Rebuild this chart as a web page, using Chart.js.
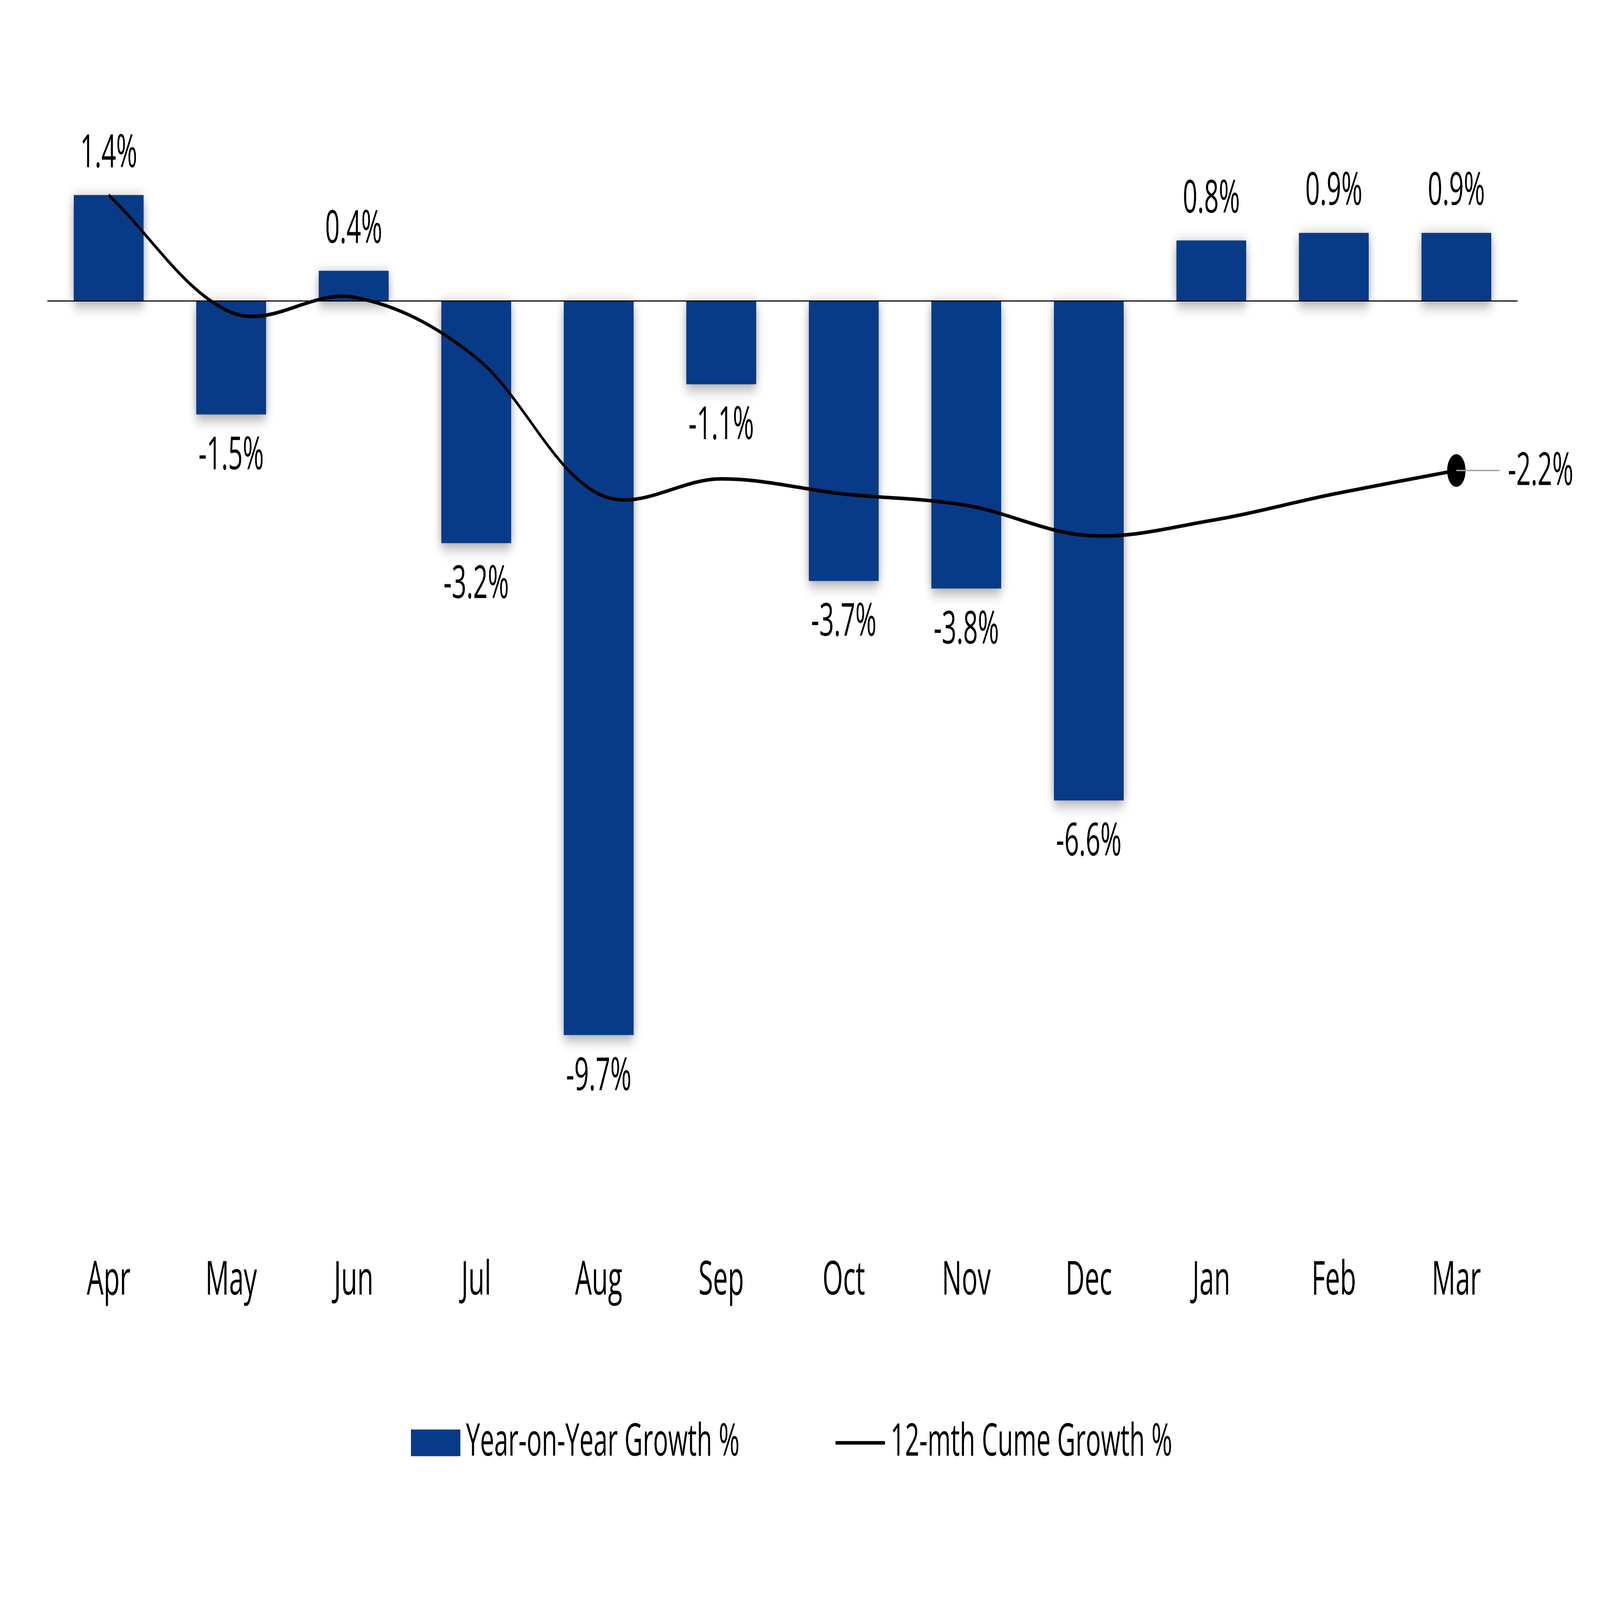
<!DOCTYPE html>
<html>
<head>
<meta charset="utf-8">
<script src="https://cdn.jsdelivr.net/npm/chart.js@4.4.1/dist/chart.umd.min.js"></script>
<style>
  html, body { margin: 0; padding: 0; background: #ffffff; overflow: hidden; }
  #wrap { width: 8000px; height: 4500px; position: absolute; left: 0; top: 0; transform-origin: 0 0; }
</style>
</head>
<body>
<div id="wrap"><canvas id="c"></canvas></div>
<script>
// ---- data ----
const months = ['Apr', 'May', 'Jun', 'Jul', 'Aug', 'Sep', 'Oct', 'Nov', 'Dec', 'Jan', 'Feb', 'Mar'];
const yoyGrowth = [1.4, -1.5, 0.4, -3.2, -9.7, -1.1, -3.7, -3.8, -6.6, 0.8, 0.9, 0.9];
const cumeGrowth = [1.4, -0.15, 0.05, -0.75, -2.55, -2.35, -2.55, -2.7, -3.1, -2.9, -2.55, -2.24];
const seriesNames = ['Year-on-Year Growth %', '12-mth Cume Growth %'];

// ---- styles ----
const BAR_COLOR = '#083B87';
const FONT = '"Open Sans", "Noto Sans", sans-serif';

// fit the 8000x4500 design to whatever window the page is opened in
(function fitToWindow() {
  const w = window.innerWidth || 8000, h = window.innerHeight || 4500;
  const sx = w / 8000, sy = h / 4500;
  if (Math.abs(sx - 1) > 0.001 || Math.abs(sy - 1) > 0.001) {
    document.getElementById('wrap').style.transform = 'scale(' + sx + ',' + sy + ')';
  }
})();

const fmt = v => v.toFixed(1) + '%';

const barShadow = {
  id: 'barShadow',
  beforeDatasetDraw(chart, args) {
    if (chart.data.datasets[args.index].type !== 'bar') return;
    const ctx = chart.ctx;
    ctx.save();
    ctx.shadowColor = 'rgba(0,0,0,0.4)';
    ctx.shadowBlur = 40;
    ctx.shadowOffsetX = 0;
    ctx.shadowOffsetY = 10;
  },
  afterDatasetDraw(chart, args) {
    if (chart.data.datasets[args.index].type !== 'bar') return;
    const ctx = chart.ctx;
    ctx.restore();
    // zero line
    const y0 = chart.scales.y.getPixelForValue(0);
    ctx.save();
    ctx.strokeStyle = '#000';
    ctx.lineWidth = 3;
    ctx.beginPath();
    ctx.moveTo(chart.chartArea.left, y0);
    ctx.lineTo(chart.chartArea.right, y0);
    ctx.stroke();
    ctx.restore();
  }
};

const labelsPlugin = {
  id: 'valueLabels',
  afterDatasetsDraw(chart) {
    const ctx = chart.ctx;
    ctx.save();
    ctx.fillStyle = '#000';
    ctx.font = '128px ' + FONT;
    ctx.textAlign = 'center';
    ctx.textBaseline = 'middle';
    chart.data.datasets.forEach((ds, di) => {
      const meta = chart.getDatasetMeta(di);
      if (ds.type === 'bar') {
        meta.data.forEach((el, i) => {
          const v = ds.data[i];
          const y = v >= 0 ? el.y - 115 : el.y + 118;
          ctx.fillText(fmt(v), el.x, y);
        });
      } else {
        const last = ds.data.length - 1;
        const el = meta.data[last];
        ctx.strokeStyle = '#A6A6A6';
        ctx.lineWidth = 4;
        ctx.beginPath();
        ctx.moveTo(el.x, el.y);
        ctx.lineTo(el.x + 216, el.y);
        ctx.stroke();
        ctx.textAlign = 'left';
        ctx.fillText(fmt(ds.data[last]), el.x + 258, el.y + 4);
        ctx.textAlign = 'center';
      }
    });
    ctx.restore();
  }
};

const legendPlugin = {
  id: 'customLegend',
  afterDraw(chart) {
    const ctx = chart.ctx;
    ctx.save();
    ctx.font = '126px ' + FONT;
    ctx.textBaseline = 'middle';
    ctx.textAlign = 'left';
    const swW = 247, swH = 75, gap = 28, itemGap = 480;
    const ds = chart.data.datasets;
    const order = [1, 0]; // bar first, then line
    const widths = order.map(i => swW + gap + ctx.measureText(ds[i].label).width);
    const total = widths.reduce((a, b) => a + b, 0) + itemGap;
    let x = chart.width / 2 - total / 2 - 42;
    const y = chart.height - 442;
    order.forEach((i, k) => {
      const d = ds[i];
      if (d.type === 'bar') {
        ctx.fillStyle = d.backgroundColor;
        ctx.fillRect(x, y - swH / 2, swW, swH);
      } else {
        ctx.strokeStyle = d.borderColor;
        ctx.lineWidth = 10;
        ctx.beginPath();
        ctx.moveTo(x, y);
        ctx.lineTo(x + swW, y);
        ctx.stroke();
      }
      ctx.fillStyle = '#000';
      ctx.fillText(d.label, x + swW + gap, y);
      x += widths[k] + itemGap;
    });
    ctx.restore();
  }
};

new Chart(document.getElementById('c'), {
  data: {
    labels: months,
    datasets: [
      {
        type: 'line',
        label: seriesNames[1],
        data: cumeGrowth,
        borderColor: '#000000',
        backgroundColor: '#000000',
        borderWidth: 10,
        tension: 0.35,
        fill: false,
        order: 0,
        pointRadius: ctx => ctx.dataIndex === cumeGrowth.length - 1 ? 46 : 0,
        pointHoverRadius: ctx => ctx.dataIndex === cumeGrowth.length - 1 ? 46 : 0,
        pointBackgroundColor: '#000000',
        pointBorderWidth: 0
      },
      {
        type: 'bar',
        label: seriesNames[0],
        data: yoyGrowth,
        backgroundColor: BAR_COLOR,
        borderWidth: 0,
        barPercentage: 0.57,
        categoryPercentage: 1.0,
        order: 1
      }
    ]
  },
  options: {
    responsive: true,
    maintainAspectRatio: false,
    devicePixelRatio: 1,
    animation: false,
    events: [],
    layout: { padding: { left: 237, right: 412, top: 208, bottom: 693 } },
    plugins: {
      legend: { display: false },
      tooltip: { enabled: false }
    },
    scales: {
      x: {
        offset: true,
        grid: { display: false, drawTicks: false },
        border: { display: false },
        ticks: {
          color: '#000',
          font: { family: FONT, size: 132 },
          padding: 124,
          maxRotation: 0,
          autoSkip: false
        }
      },
      y: {
        display: false,
        min: -12,
        max: 3
      }
    }
  },
  plugins: [barShadow, labelsPlugin, legendPlugin]
});
</script>
</body>
</html>
